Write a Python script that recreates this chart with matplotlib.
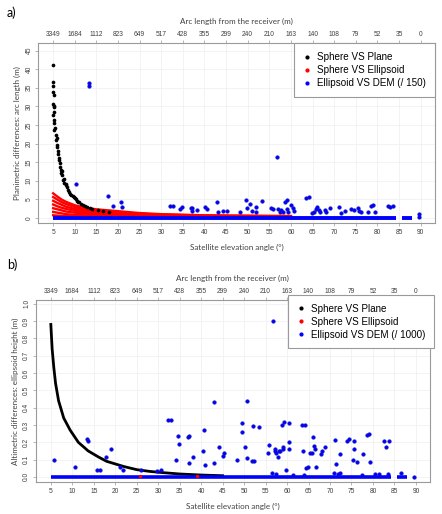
import matplotlib
matplotlib.use("Agg")
import matplotlib.pyplot as plt

plt.rcParams['font.family'] = ['Liberation Sans', 'DejaVu Sans']

# elevation ticks and the matching arc lengths (top axis)
elev_ticks = [5, 10, 15, 20, 25, 30, 35, 40, 45, 50, 55, 60, 65, 70, 75, 80, 85, 90]
arc_labels = ['3349', '1684', '1112', '823', '649', '517', '428', '355', '299',
              '240', '210', '163', '140', '108', '79', '52', '35', '0']

# ---- panel a: planimetric differences ----
a_black_elev = [4.9, 5.0, 5.0, 5.0, 5.1, 5.0, 5.3, 5.1, 5.3, 5.0, 5.3, 5.1, 5.4, 5.3,
                5.6, 5.6, 5.8, 5.9, 6.0, 6.1, 6.2, 6.3, 6.4, 6.5, 6.7, 6.8, 6.9, 7.0,
                7.1, 7.3, 7.5, 7.6, 7.9, 8.0, 8.2, 8.5, 8.7, 9.0, 9.2, 9.5, 9.8, 10.0,
                10.3, 10.5, 10.8, 11.0, 11.5, 11.9, 12.3, 12.8, 13.5, 14.0, 15.4, 16.5, 18.0]
a_black_val = [41.2, 36.5, 35.4, 33.9, 33.0, 30.7, 30.0, 29.8, 28.5, 27.6, 26.3, 25.4, 24.3, 23.6,
               22.3, 20.9, 21.5, 19.1, 19.5, 17.9, 17.3, 16.0, 15.5, 14.8, 13.8, 13.0, 12.0, 12.5,
               11.5, 10.2, 10.5, 9.5, 8.8, 9.0, 8.2, 7.5, 7.0, 6.5, 6.2, 6.0, 5.5, 5.3,
               5.0, 4.5, 4.4, 4.2, 3.8, 3.5, 3.2, 2.9, 2.6, 2.4, 2.0, 1.8, 1.6]

a_red_elev = [5, 6, 7, 8, 10, 12, 15, 20, 25, 30, 40, 50, 60]
a_red_tracks = [
    [6.6, 5.7, 4.9, 4.3, 3.4, 2.8, 2.3, 1.8, 1.3, 1.0, 0.7, 0.6, 0.5],
    [5.6, 4.9, 4.2, 3.7, 2.9, 2.4, 1.9, 1.5, 1.1, 0.9, 0.6, 0.5, 0.4],
    [4.6, 4.0, 3.5, 3.0, 2.4, 2.0, 1.6, 1.2, 0.9, 0.7, 0.5, 0.4, 0.3],
    [3.6, 3.1, 2.7, 2.4, 1.9, 1.6, 1.3, 1.0, 0.7, 0.6, 0.4, 0.3, 0.25],
    [2.6, 2.3, 2.0, 1.7, 1.4, 1.2, 0.9, 0.7, 0.5, 0.4, 0.3, 0.2, 0.2],
    [1.6, 1.4, 1.2, 1.0, 0.8, 0.7, 0.6, 0.5, 0.35, 0.3, 0.2, 0.15, 0.1],
    [0.7, 0.6, 0.5, 0.45, 0.4, 0.35, 0.3, 0.25, 0.2, 0.15, 0.1, 0.1, 0.05],
]

a_blue_elev = [13.3, 13.3, 10.2, 17.7, 18.9, 20.8, 21.0, 32.1, 32.8, 34.3, 34.7, 36.8, 37.2,
               37.0, 38.2, 40.2, 40.5, 42.8, 43.2, 44.2, 45.1, 48.2, 49.6, 49.9, 50.5, 50.9,
               51.9, 52.0, 53.3, 55.5, 55.9, 56.7, 57.1, 57.4, 57.8, 58.2, 58.6, 59.1, 59.0,
               59.4, 60.1, 60.5, 60.7, 63.4, 64.2, 64.8, 65.4, 65.8, 66.1, 66.5, 66.8, 67.8,
               68.2, 69.0, 71.2, 71.5, 72.5, 74.0, 74.5, 75.4, 75.8, 76.3, 77.9, 78.6, 79.0,
               79.4, 82.5, 82.9, 83.5, 89.7, 89.7]
a_blue_val = [36.2, 35.4, 9.1, 5.9, 3.1, 4.4, 2.9, 3.3, 3.3, 2.4, 2.9, 2.7, 2.7,
              1.8, 2.0, 2.9, 2.4, 4.3, 1.6, 1.8, 1.9, 1.5, 4.9, 2.7, 3.8, 1.8,
              2.8, 1.5, 4.6, 2.7, 2.4, 16.4, 2.4, 1.5, 2.2, 1.7, 4.4, 4.7, 2.4,
              1.5, 3.5, 2.7, 1.8, 5.3, 5.5, 1.3, 1.5, 2.4, 2.9, 2.2, 1.5, 2.2,
              1.6, 2.7, 2.8, 1.3, 1.8, 2.4, 2.2, 2.7, 1.8, 1.5, 1.5, 3.3, 3.5,
              1.5, 3.3, 2.9, 3.3, 1.1, 0.3]

# runs of blue points sitting on zero (dense baseline)
blue_run_start = [5.0, 85.6]
blue_run_end = [84.3, 88.0]

# ---- panel b: altimetric differences ----
b_black_elev = [5.0, 5.3, 5.7, 6.1, 6.8, 8.0, 9.5, 11.4, 13.7, 16.1, 18.0, 20.0, 22.0,
                25.0, 28.0, 31.0, 35.0, 40.0, 45.0]
b_black_val = [0.88, 0.74, 0.63, 0.54, 0.44, 0.34, 0.27, 0.20, 0.15, 0.115, 0.09, 0.075, 0.06,
               0.042, 0.032, 0.025, 0.017, 0.011, 0.007]

b_red_elev = [25.8, 39.0]
b_red_val = [0.004, 0.004]

b_blue_elev = [5.8, 10.6, 13.4, 13.6, 15.8, 16.5, 17.8, 18.9, 21.2, 21.9, 26.0, 29.7, 30.6,
               32.3, 32.9, 34.2, 34.5, 34.9, 36.9, 37.1, 37.2, 38.2, 40.4, 40.6, 40.8, 42.9,
               43.1, 44.1, 45.0, 45.4, 48.3, 49.6, 49.6, 50.2, 50.6, 50.7, 51.9, 52.3, 52.1,
               53.4, 55.5, 55.9, 56.7, 57.1, 57.3, 57.4, 57.8, 58.1, 58.4, 58.8, 59.0, 59.1,
               59.4, 59.7, 60.4, 60.5, 60.5, 63.4, 63.6, 64.2, 64.5, 64.9, 65.3, 65.7, 66.0,
               66.3, 66.5, 66.8, 67.8, 68.2, 68.9, 71.1, 71.5, 72.4, 73.9, 74.5, 75.3, 75.7,
               75.7, 76.2, 77.7, 78.5, 79.1, 79.3, 82.6, 83.1, 83.7,
               56.5, 57.5, 61.5, 64.0, 71.0, 71.8, 72.3, 77.5, 80.5, 81.5, 83.5, 86.5, 89.5]
b_blue_val = [0.10, 0.06, 0.22, 0.21, 0.04, 0.04, 0.115, 0.16, 0.055, 0.04, 0.04, 0.035, 0.04,
              0.33, 0.33, 0.10, 0.235, 0.19, 0.23, 0.235, 0.08, 0.115, 0.15, 0.27, 0.07, 0.43,
              0.08, 0.17, 0.12, 0.14, 0.095, 0.26, 0.31, 0.175, 0.11, 0.44, 0.09, 0.09, 0.295,
              0.29, 0.14, 0.185, 0.90, 0.16, 0.15, 0.14, 0.115, 0.15, 0.15, 0.30, 0.17, 0.16,
              0.315, 0.04, 0.31, 0.20, 0.16, 0.30, 0.15, 0.30, 0.05, 0.06, 0.14, 0.14, 0.23,
              0.18, 0.16, 0.06, 0.135, 0.15, 0.17, 0.215, 0.075, 0.13, 0.21, 0.22, 0.095, 0.16,
              0.205, 0.085, 0.13, 0.24, 0.25, 0.085, 0.205, 0.175, 0.21,
              0.02, 0.015, 0.01, 0.01, 0.02, 0.015, 0.02, 0.01, 0.015, 0.015, 0.015, 0.02, 0.0]

GRAY = '#9a9a9a'
TXT = '#404040'


def style_axes(ax, ylabel, yticks, ylim):
    ax.set_xlim(1.5, 93.3)
    ax.set_ylim(*ylim)
    ax.set_xticks(elev_ticks)
    ax.set_yticks(yticks)
    ax.tick_params(axis='both', labelsize=4.8, colors=TXT, length=2, width=0.5, pad=2)
    ax.tick_params(axis='x', color=GRAY)
    ax.tick_params(axis='y', color=GRAY, labelrotation=90)
    for lab in ax.get_yticklabels():
        lab.set_verticalalignment('center')
    for sp in ax.spines.values():
        sp.set_color(GRAY)
        sp.set_linewidth(0.8)
    ax.grid(True, color='#f1f1f1', linewidth=0.6)
    ax.set_axisbelow(True)
    ax.set_xlabel('Satellite elevation angle (°)', fontsize=5.8, color=TXT,
                  family=['Lato', 'DejaVu Sans'], labelpad=6)
    ax.set_ylabel(ylabel, fontsize=5.8, color=TXT, family=['Lato', 'DejaVu Sans'], labelpad=3)
    top = ax.secondary_xaxis('top')
    top.set_xticks(elev_ticks, labels=arc_labels)
    top.tick_params(labelsize=4.8, colors=TXT, length=2, width=0.5, pad=2)
    top.tick_params(color=GRAY)
    top.spines['top'].set_visible(False)
    top.set_xlabel('Arc length from the receiver (m)', fontsize=5.8, color=TXT,
                   family=['Lato', 'DejaVu Sans'], labelpad=5)


def add_legend(ax, dem_label, anchor):
    h1, = ax.plot([], [], '.', color='black', markersize=4)
    h2, = ax.plot([], [], '.', color='red', markersize=4)
    h3, = ax.plot([], [], '.', color='blue', markersize=4)
    leg = ax.legend([h1, h2, h3], ['Sphere VS Plane', 'Sphere VS Ellipsoid', dem_label],
                    loc='upper right', bbox_to_anchor=anchor, fontsize=7.1,
                    fancybox=False, framealpha=1, edgecolor=GRAY, handlelength=0.8,
                    handletextpad=0.6, borderpad=0.9, labelspacing=0.3, borderaxespad=0)
    leg.get_frame().set_linewidth(0.8)


fig = plt.figure(figsize=(4.42, 5.14), dpi=100)

# panel a
ax1 = fig.add_axes([0.086, 0.566, 0.898, 0.350])
for track in a_red_tracks:
    ax1.plot(a_red_elev, track, color='red', linewidth=1.7, zorder=2)
ax1.scatter(a_black_elev, a_black_val, s=7, color='black', linewidths=0, zorder=3)
ax1.hlines([0] * len(blue_run_start), blue_run_start, blue_run_end, color='blue',
           linewidth=2.8, zorder=4)
ax1.scatter(a_blue_elev, a_blue_val, s=7, color='blue', edgecolors='#1a1aa0',
            linewidths=0.3, zorder=4)
style_axes(ax1, 'Planimetric differences: arc length (m)', range(0, 46, 5), (-1.4, 47))
add_legend(ax1, 'Ellipsoid VS DEM (/ 150)', (1.0, 1.0))

# panel b
ax2 = fig.add_axes([0.081, 0.062, 0.892, 0.354])
ax2.plot(b_black_elev, b_black_val, color='black', linewidth=2.0, zorder=3)
ax2.hlines([0] * len(blue_run_start), blue_run_start, blue_run_end, color='blue',
           linewidth=2.6, zorder=4)
ax2.scatter(b_blue_elev, b_blue_val, s=7, color='blue', edgecolors='#1a1aa0',
            linewidths=0.3, zorder=4)
ax2.scatter(b_red_elev, b_red_val, s=6, color='red', linewidths=0, zorder=5)
style_axes(ax2, 'Altimetric differences: ellipsoid height (m)',
           [0, 0.1, 0.2, 0.3, 0.4, 0.5, 0.6, 0.7, 0.8, 0.9, 1.0], (-0.03, 1.02))
ax2.set_yticklabels(['0.0', '0.1', '0.2', '0.3', '0.4', '0.5', '0.6', '0.7', '0.8', '0.9', '1.0'],
                    va='center')
add_legend(ax2, 'Ellipsoid VS DEM (/ 1000)', (1.01, 1.03))

fig.text(0.015, 0.975, 'a)', fontsize=9, color='black', family=['Lato', 'DejaVu Sans'],
         va='center')
fig.text(0.015, 0.485, 'b)', fontsize=9, color='black', family=['Lato', 'DejaVu Sans'],
         va='center')

fig.savefig('out.png', dpi=100, facecolor='white')
